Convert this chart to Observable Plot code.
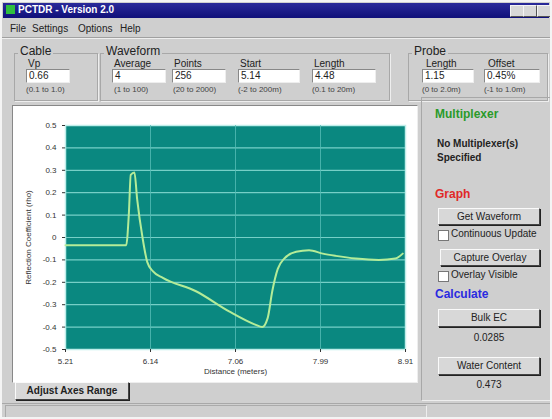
<!DOCTYPE html>
<html>
<head>
<meta charset="utf-8">
<script src="https://cdn.jsdelivr.net/npm/d3@7"></script>
<script src="https://cdn.jsdelivr.net/npm/@observablehq/plot@0.6"></script>
<style>
  html, body { margin: 0; padding: 0; background: #f4f4f4; }
  #win { position: absolute; left: 2px; top: 2px; width: 548px; height: 415px; background: #cfcfcf; overflow: hidden;
         font-family: "Liberation Sans", Arial, sans-serif; color: #222; }
  .abs { position: absolute; white-space: nowrap; }
  .title { left: 1px; top: 1px; width: 546px; height: 15px; background: linear-gradient(#2a2a9a, #10107a); }
  .ttext { left: 16px; top: 2px; color: #fff; font-weight: bold; font-size: 10px; }
  .icon { left: 4px; top: 3px; width: 9px; height: 9px; background: #2fbf3f; }
  .tbtn { top: 3px; width: 12px; height: 10px; background: #d8d8d8; border: 1px solid #f4f4f4; border-right-color: #555; border-bottom-color: #555; }
  .menu { top: 21px; font-size: 10px; }
  .grp { border: 1px solid #a8a8a8; box-shadow: 1px 1px 0 #eee; }
  .gl { font-size: 12px; background: #cfcfcf; padding: 0 2px; }
  .lbl { font-size: 10px; }
  .inp { background: #fff; border: 1px solid #888; border-right-color: #eee; border-bottom-color: #eee; font-size: 10px; line-height: 12px; padding-left: 2px; box-sizing: border-box; height: 14px; }
  .rng { font-size: 8px; color: #444; }
  .btn { background: #d8d8d8; border: 1px solid #fafafa; border-right-color: #444; border-bottom-color: #444; box-shadow: 1px 1px 0 #222;
         font-size: 10px; text-align: center; box-sizing: border-box; }
  .chk { width: 9px; height: 9px; background: #fff; border: 1px solid #777; }
  .sect { font-size: 12px; font-weight: bold; }
  .val { font-size: 10px; text-align: center; }
</style>
</head>
<body>
<div id="win">
  <div class="abs title"></div>
  <div class="abs icon"></div>
  <div class="abs ttext">PCTDR - Version 2.0</div>
  <div class="abs tbtn" style="left:508px"></div>
  <div class="abs tbtn" style="left:521px"></div>
  <div class="abs tbtn" style="left:535px"></div>

  <div class="abs menu" style="left:8px">File</div>
  <div class="abs menu" style="left:30px">Settings</div>
  <div class="abs menu" style="left:76px">Options</div>
  <div class="abs menu" style="left:118px">Help</div>
  <div class="abs" style="left:0; top:35px; width:548px; height:1px; background:#a0a0a0; border-bottom:1px solid #eee"></div>

  <div class="abs grp" style="left:12px; top:51px; width:82px; height:46px"></div>
  <div class="abs gl" style="left:16px; top:42px">Cable</div>
  <div class="abs grp" style="left:98px; top:51px; width:288px; height:46px"></div>
  <div class="abs gl" style="left:102px; top:42px">Waveform</div>
  <div class="abs grp" style="left:406px; top:51px; width:138px; height:46px"></div>
  <div class="abs gl" style="left:410px; top:42px">Probe</div>

  <div class="abs lbl" style="left:26px; top:56px">Vp</div>
  <div class="abs inp" style="left:24px; top:67px; width:44px">0.66</div>
  <div class="abs rng" style="left:24px; top:83px">(0.1 to 1.0)</div>

  <div class="abs lbl" style="left:112px; top:56px">Average</div>
  <div class="abs inp" style="left:110px; top:67px; width:54px">4</div>
  <div class="abs rng" style="left:112px; top:83px">(1 to 100)</div>

  <div class="abs lbl" style="left:172px; top:56px">Points</div>
  <div class="abs inp" style="left:170px; top:67px; width:54px">256</div>
  <div class="abs rng" style="left:171px; top:83px">(20 to 2000)</div>

  <div class="abs lbl" style="left:238px; top:56px">Start</div>
  <div class="abs inp" style="left:236px; top:67px; width:62px">5.14</div>
  <div class="abs rng" style="left:236px; top:83px">(-2 to 200m)</div>

  <div class="abs lbl" style="left:312px; top:56px">Length</div>
  <div class="abs inp" style="left:310px; top:67px; width:64px">4.48</div>
  <div class="abs rng" style="left:310px; top:83px">(0.1 to 20m)</div>

  <div class="abs lbl" style="left:424px; top:56px">Length</div>
  <div class="abs inp" style="left:420px; top:67px; width:52px">1.15</div>
  <div class="abs rng" style="left:420px; top:83px">(0 to 2.0m)</div>

  <div class="abs lbl" style="left:486px; top:56px">Offset</div>
  <div class="abs inp" style="left:482px; top:67px; width:56px">0.45%</div>
  <div class="abs rng" style="left:482px; top:83px">(-1 to 1.0m)</div>

  <div class="abs" style="left:10px; top:103px; width:404px; height:276px; background:#fff; border:1px solid #888; border-right-color:#eee; border-bottom-color:#eee"></div>
  <div id="plot" class="abs" style="left:13px; top:105px"></div>

  <div class="abs btn" style="left:13px; top:380px; width:114px; height:18px; line-height:16px; font-weight:bold">Adjust Axes Range</div>
  <div class="abs" style="left:0; top:401px; width:548px; height:14px; border-top:1px solid #a8a8a8"></div>
  <div class="abs" style="left:3px; top:403px; width:420px; height:11px; border:1px solid #aaa; border-right-color:#eee; border-bottom-color:#eee"></div>

  <div class="abs" style="left:419px; top:95px; width:128px; height:302px; border:1px solid #a8a8a8; border-right-color:#eee; border-bottom-color:#eee"></div>
  <div class="abs sect" style="left:433px; top:105px; color:#2a9a2a">Multiplexer</div>
  <div class="abs lbl" style="left:435px; top:136px; font-weight:bold">No Multiplexer(s)</div>
  <div class="abs lbl" style="left:435px; top:150px; font-weight:bold">Specified</div>
  <div class="abs sect" style="left:433px; top:185px; color:#e02828">Graph</div>
  <div class="abs btn" style="left:436px; top:206px; width:102px; height:17px; line-height:15px">Get Waveform</div>
  <div class="abs chk" style="left:436px; top:228px"></div>
  <div class="abs lbl" style="left:449px; top:226px">Continuous Update</div>
  <div class="abs btn" style="left:438px; top:247px; width:100px; height:17px; line-height:15px">Capture Overlay</div>
  <div class="abs chk" style="left:436px; top:269px"></div>
  <div class="abs lbl" style="left:449px; top:267px">Overlay Visible</div>
  <div class="abs sect" style="left:433px; top:285px; color:#2a2ae0">Calculate</div>
  <div class="abs btn" style="left:436px; top:307px; width:102px; height:18px; line-height:16px">Bulk EC</div>
  <div class="abs val" style="left:436px; top:330px; width:102px">0.0285</div>
  <div class="abs btn" style="left:436px; top:355px; width:102px; height:18px; line-height:16px">Water Content</div>
  <div class="abs val" style="left:436px; top:377px; width:102px">0.473</div>
</div>
<script>
// Waveform samples
const distance = [5.21, 5.87, 5.90, 5.92, 5.96, 5.99, 6.05, 6.10, 6.16, 6.27, 6.63, 6.99, 7.28, 7.35, 7.41, 7.46, 7.52, 7.59, 7.72, 7.86, 8.01, 8.15, 8.37, 8.62, 8.80, 8.88];
const rho      = [-0.035, -0.035, 0.11, 0.28, 0.29, 0.17, -0.005, -0.11, -0.15, -0.18, -0.24, -0.33, -0.39, -0.40, -0.36, -0.24, -0.14, -0.094, -0.064, -0.057, -0.072, -0.082, -0.094, -0.10, -0.094, -0.072];
const xTicks = [5.21, 6.135, 7.06, 7.985, 8.91];
const xTickLabels = ["5.21", "6.14", "7.06", "7.99", "8.91"];
const yTicks = [0.5, 0.4, 0.3, 0.2, 0.1, 0, -0.1, -0.2, -0.3, -0.4, -0.5];
const yTickLabels = ["0.5", "0.4", "0.3", "0.2", "0.1", "0", "-0.1", "-0.2", "-0.3", "-0.4", "-0.5"];

const data = distance.map((d, i) => ({distance: d, rho: rho[i]}));

const chart = Plot.plot({
  width: 399,
  height: 272,
  marginLeft: 50,
  marginRight: 9,
  marginTop: 18,
  marginBottom: 30,
  style: {background: "#fff", fontFamily: "Liberation Sans, Arial, sans-serif", fontSize: "8px", color: "#333"},
  x: {domain: [5.21, 8.91]},
  y: {domain: [-0.5, 0.5]},
  marks: [
    Plot.frame({fill: "#0a8880", stroke: "#bfeeea", strokeWidth: 1.5}),
    Plot.gridY(yTicks.filter(d => d > -0.5 && d < 0.5), {stroke: "#8adcd4", strokeOpacity: 0.85, strokeWidth: 1.2}),
    Plot.gridX(xTicks.slice(1, -1), {stroke: "#55bdb5", strokeOpacity: 0.8, strokeWidth: 1}),
    Plot.line(data, {x: "distance", y: "rho", stroke: "#b4ec98", strokeWidth: 2, curve: "monotone-x"}),
    Plot.axisY(yTicks, {tickSize: 3, tickFormat: (d, i) => yTickLabels[i], label: "Reflection Coefficient (rho)", labelAnchor: "center", labelOffset: 40, labelArrow: "none"}),
    Plot.axisX(xTicks, {tickSize: 3, tickFormat: (d, i) => xTickLabels[i], label: "Distance (meters)", labelAnchor: "center", labelOffset: 24, labelArrow: "none"})
  ]
});
document.getElementById("plot").appendChild(chart);
</script>
</body>
</html>
